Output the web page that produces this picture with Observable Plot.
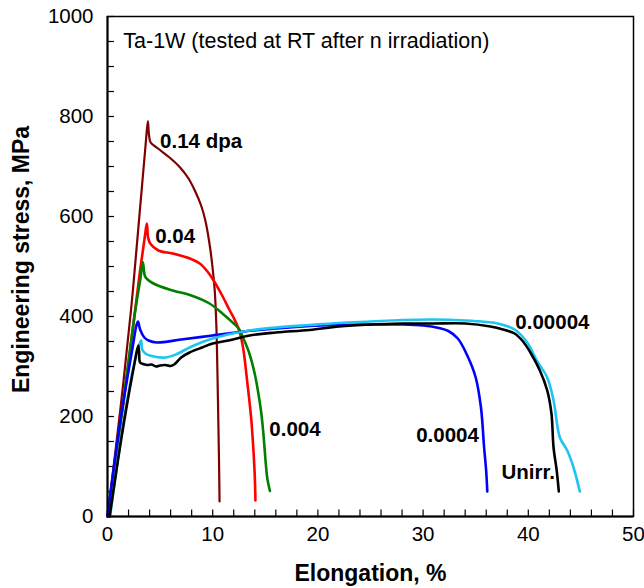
<!DOCTYPE html>
<html>
<head>
<meta charset="utf-8">
<script src="https://cdn.jsdelivr.net/npm/d3@7"></script>
<script src="https://cdn.jsdelivr.net/npm/@observablehq/plot@0.6"></script>
<style>
  html, body { margin: 0; padding: 0; background: #fff; }
  #chart { width: 644px; height: 588px; }
</style>
</head>
<body>
<div id="chart"></div>
<script>
// Engineering stress–strain curves of Ta-1W after neutron irradiation
// Each curve: [elongation %, engineering stress MPa]
const dpa014 = [
  [0, 0], [1.2, 210], [2.23, 412], [2.48, 468], [3.6, 738], [3.84, 791],
  [3.95, 762], [4.1, 748], [4.8, 736], [5.9, 718], [6.9, 698], [7.7, 676],
  [8.3, 652], [8.9, 622], [9.3, 592], [9.7, 545], [10.0, 495], [10.2, 450],
  [10.35, 380], [10.5, 232], [10.6, 112], [10.65, 30]
];
const dpa004 = [
  [0, 0], [1.5, 225], [3.1, 492], [3.55, 560], [3.74, 586], [3.86, 558],
  [4.06, 546], [4.84, 532], [6.2, 526], [7.83, 516], [8.77, 506], [9.5, 490],
  [10.0, 475], [10.9, 442], [11.6, 413], [12.1, 393], [12.55, 370], [12.9, 336],
  [13.3, 266], [13.65, 198], [13.85, 140], [14.0, 80], [14.06, 32]
];
const dpa0004 = [
  [0, 0], [1.5, 230], [2.64, 412], [3.1, 472], [3.36, 509], [3.5, 486],
  [3.6, 479], [4.37, 466], [6.2, 452], [7.83, 443], [9.7, 426], [10.97, 405],
  [12.0, 386], [12.5, 375], [13.0, 352], [13.5, 325], [14.0, 285], [14.35, 245],
  [14.6, 210], [14.8, 170], [15.05, 105], [15.2, 75], [15.44, 51]
];
const dpa00004 = [
  [0, 0], [1.23, 192], [2.4, 340], [2.75, 382], [2.9, 390], [3.1, 374],
  [3.5, 358], [3.9, 352], [4.7, 348], [7, 354], [10, 362], [13, 370],
  [16, 376], [19.2, 381], [22, 383], [25, 384], [28, 384], [30, 382],
  [31.5, 377], [32.4, 371], [33.3, 356], [34.2, 322], [35.0, 278], [35.5, 218],
  [35.8, 138], [36.0, 90], [36.1, 50]
];
const dpa000004 = [
  [0.25, 0], [1.54, 192], [2.8, 330], [3.1, 348], [3.2, 352], [3.3, 334],
  [3.6, 326], [4.2, 321], [5.5, 318], [6.5, 324], [8, 340], [10, 356],
  [13.5, 372], [16, 378], [19.2, 383], [22, 387], [25, 390], [28, 393],
  [31, 394], [34, 392], [36, 389], [37.1, 386], [38.7, 374], [39.9, 348],
  [40.8, 312], [41.8, 278], [42.4, 232], [43.0, 158], [43.7, 132], [44.3, 98],
  [44.9, 50]
];
const unirr = [
  [0.2, 0], [1.5, 180], [2.6, 310], [2.92, 342], [3.0, 330], [3.1, 308],
  [3.4, 305], [3.8, 303], [4.2, 304], [4.6, 300], [5.0, 302], [5.5, 303],
  [6.0, 301], [6.4, 305], [7.0, 318], [7.8, 328], [9, 338], [10, 346],
  [11.5, 352], [13.5, 362], [16, 368], [19.2, 373], [22, 380], [25, 384],
  [28, 386], [31, 386], [34, 386], [36.4, 380], [37.6, 374], [38.7, 366],
  [39.5, 350], [40.2, 328], [41.1, 292], [41.8, 252], [42.2, 206], [42.4, 138],
  [42.7, 92], [42.9, 50]
];

const seriesNames = ["0.14 dpa", "0.04", "0.004", "0.0004", "0.00004", "Unirr."];
const seriesColors = ["#800000", "#ff0000", "#008000", "#0000ff", "#1ec4f2", "#000000"];
const seriesData = [dpa014, dpa004, dpa0004, dpa00004, dpa000004, unirr];

// Curve labels
const labelText = ["0.14 dpa", "0.04", "0.004", "0.0004", "Unirr.", "0.00004"];
const labelX = [5.0, 4.53, 15.38, 29.34, 37.45, 38.77];
const labelY = [750, 560, 174, 162, 88, 388];

// Axis ticks
const xTicks = [0, 10, 20, 30, 40, 50];
const xMinorTicks = [0, 2, 4, 6, 8, 10, 12, 14, 16, 18, 20, 22, 24, 26, 28, 30,
  32, 34, 36, 38, 40, 42, 44, 46, 48, 50];
const yTicks = [0, 200, 400, 600, 800, 1000];
const yMinorTicks = [0, 50, 100, 150, 200, 250, 300, 350, 400, 450, 500, 550,
  600, 650, 700, 750, 800, 850, 900, 950, 1000];

const rows = seriesData.flatMap((pts, i) =>
  pts.map(([x, y]) => ({series: seriesNames[i], x, y})));
const labels = labelText.map((t, i) => ({t, x: labelX[i], y: labelY[i]}));

const chart = Plot.plot({
  width: 644,
  height: 588,
  marginLeft: 107,
  marginRight: 11,
  marginTop: 16,
  marginBottom: 72,
  style: {fontFamily: "'Liberation Sans', Arial, sans-serif", color: "#000", background: "#fff"},
  x: {domain: [0, 50]},
  y: {domain: [0, 1000]},
  color: {domain: seriesNames, range: seriesColors},
  marks: [
    Plot.frame({stroke: "#000", strokeWidth: 1.5}),
    // inward tick marks
    Plot.ruleX(xMinorTicks, {x: d => d, y1: 0, y2: 13, stroke: "#000", strokeWidth: 1.2}),
    Plot.ruleY(yMinorTicks, {y: d => d, x1: 0, x2: 0.66, stroke: "#000", strokeWidth: 1.2}),
    Plot.axisX({ticks: xTicks, tickFormat: d3.format("d"), tickSize: 0, tickPadding: 10,
      fontSize: 20.5, label: null}),
    Plot.axisY({ticks: yTicks, tickFormat: d3.format("d"), tickSize: 0, tickPadding: 14,
      fontSize: 20.5, label: null}),
    // stress–strain curves
    Plot.line(rows, {
      x: "x", y: "y", z: "series", stroke: "series",
      strokeWidth: d => d.series === "0.14 dpa" ? 2.2 : 2.6,
      curve: "catmull-rom"
    }),
    Plot.ruleX([0], {stroke: "#000", strokeWidth: 2}),
    Plot.ruleY([0], {stroke: "#000", strokeWidth: 2}),
    Plot.text(labels, {x: "x", y: "y", text: "t", textAnchor: "start",
      fontSize: 20.5, fontWeight: "bold", fill: "#000"}),
    Plot.text(["Ta-1W (tested at RT after n irradiation)"], {
      x: 1.5, y: 951, textAnchor: "start", fontSize: 21.5, fill: "#000"}),
    Plot.text(["Elongation, %"], {frameAnchor: "bottom", dy: 57, lineAnchor: "middle",
      textAnchor: "middle", fontSize: 23, fontWeight: "bold", fill: "#000"}),
    Plot.text(["Engineering stress, MPa"], {frameAnchor: "left", dx: -85.5, dy: -7,
      rotate: -90, textAnchor: "middle", lineAnchor: "middle",
      fontSize: 23, fontWeight: "bold", fill: "#000"})
  ]
});

document.getElementById("chart").appendChild(chart);
</script>
</body>
</html>
